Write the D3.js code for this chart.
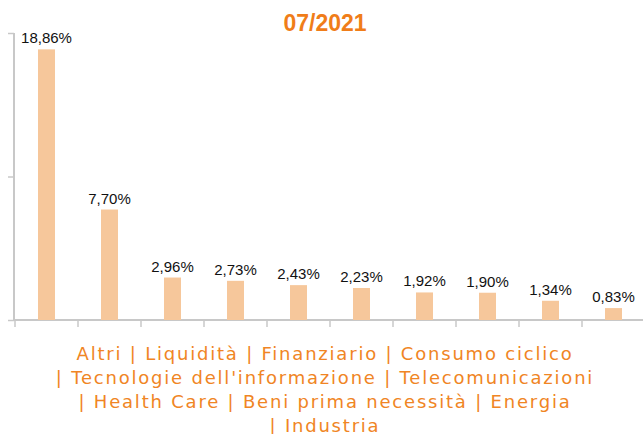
<!DOCTYPE html>
<html>
<head>
<meta charset="utf-8">
<script src="https://cdn.jsdelivr.net/npm/d3@7"></script>
<style>
  body { margin: 0; background: #fff; }
</style>
</head>
<body>
<div id="chart"></div>
<script>
// data
var categories = ["Altri", "Liquidità", "Finanziario", "Consumo ciclico",
  "Tecnologie dell'informazione", "Telecomunicazioni", "Health Care",
  "Beni prima necessità", "Energia", "Industria"];
var values = [18.86, 7.70, 2.96, 2.73, 2.43, 2.23, 1.92, 1.90, 1.34, 0.83];
var yTicks = [0, 10, 20];
var title = "07/2021";
// legend lines as broken in the picture (indices into categories)
var legendLines = [[0, 1, 2, 3], [4, 5], [6, 7, 8], [9]];

var W = 643, H = 434;
var margin = {top: 33, right: 0, bottom: 114, left: 15};

var svg = d3.select("#chart").append("svg")
  .attr("width", W).attr("height", H);

var x = d3.scaleBand()
  .domain(categories)
  .range([margin.left, 645]);

var y = d3.scaleLinear()
  .domain([0, 20])
  .range([320, margin.top]);

var axisColor = "#c8c8c8";

// title
svg.append("text")
  .attr("x", 325).attr("y", 31)
  .attr("text-anchor", "middle")
  .attr("font-family", "Liberation Sans, Arial, sans-serif")
  .attr("font-weight", "bold")
  .attr("font-size", 23)
  .attr("fill", "#f07d19")
  .text(title);

// y axis
var yAxis = svg.append("g")
  .attr("transform", "translate(" + (margin.left - 1) + ",0)")
  .call(d3.axisLeft(y).tickValues(yTicks).tickSize(6).tickFormat(""));
yAxis.select(".domain").remove();
yAxis.selectAll("line").attr("stroke", axisColor).attr("stroke-width", 1.5);
svg.append("line")
  .attr("x1", margin.left - 1).attr("x2", margin.left - 1)
  .attr("y1", y(20)).attr("y2", y(0))
  .attr("stroke", axisColor).attr("stroke-width", 2);

// x axis
var xAxis = svg.append("g")
  .attr("transform", "translate(0," + y(0) + ")")
  .call(d3.axisBottom(x).tickSize(7).tickFormat(""));
xAxis.select(".domain").remove();
xAxis.selectAll(".tick line")
  .attr("transform", function() { return "translate(" + (-x.bandwidth() / 2) + ",0)"; })
  .attr("stroke", axisColor).attr("stroke-width", 1.5);
svg.append("line")
  .attr("x1", margin.left - 2).attr("x2", W)
  .attr("y1", y(0)).attr("y2", y(0))
  .attr("stroke", axisColor).attr("stroke-width", 2);

// bars
var barW = 17;
svg.selectAll("rect.bar")
  .data(values)
  .enter().append("rect")
  .attr("class", "bar")
  .attr("x", function(d, i) { return x(categories[i]) + x.bandwidth() / 2 - barW / 2; })
  .attr("y", function(d) { return y(d); })
  .attr("width", barW)
  .attr("height", function(d) { return y(0) - y(d); })
  .attr("fill", "#f6c79b");

// value labels
svg.selectAll("text.val")
  .data(values)
  .enter().append("text")
  .attr("class", "val")
  .attr("x", function(d, i) { return x(categories[i]) + x.bandwidth() / 2; })
  .attr("y", function(d) { return y(d) - 6; })
  .attr("text-anchor", "middle")
  .attr("font-family", "Liberation Sans, Arial, sans-serif")
  .attr("font-size", 15)
  .attr("fill", "#111")
  .text(function(d) { return d3.format(".2f")(d).replace(".", ",") + "%"; });

// category legend text
var legend = svg.append("g")
  .attr("font-family", "DejaVu Sans, Verdana, sans-serif")
  .attr("font-size", 18)
  .attr("fill", "#f08524")
  .attr("text-anchor", "middle");
var lines = legendLines.map(function(idx, li) {
  var s = idx.map(function(i) { return categories[i]; }).join(" | ");
  if (li > 0) s = "| " + s;
  return legend.append("text")
    .attr("x", 325)
    .attr("y", 360 + li * 24)
    .text(s);
});
// widen letter spacing so the first line spans about 497px like the picture
var first = lines[0].node();
var n = first.getNumberOfChars();
var ls = (497 - first.getComputedTextLength()) / n;
legend.attr("letter-spacing", ls.toFixed(2));
</script>
</body>
</html>
